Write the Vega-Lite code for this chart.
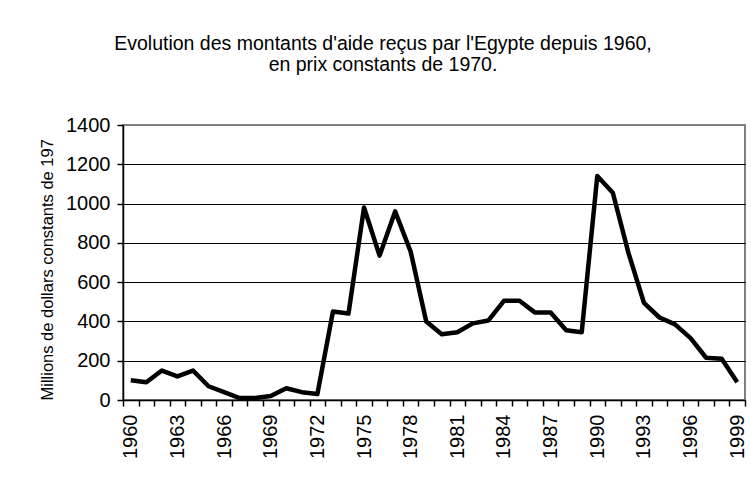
{
  "$schema": "https://vega.github.io/schema/vega-lite/v6.json",
  "autosize": {"type": "none"},
  "width": 622,
  "height": 275,
  "padding": {"left": 123, "top": 125, "right": 6, "bottom": 86},
  "background": "white",
  "title": {
    "text": ["Evolution des montants d'aide reçus par l'Egypte depuis 1960,", "en prix constants de 1970."],
    "font": "Liberation Sans",
    "fontSize": 19.5,
    "fontWeight": "normal",
    "color": "black",
    "anchor": "middle",
    "frame": "group",
    "dx": -51,
    "offset": 40,
    "lineHeight": 21
  },
  "config": {
    "font": "Liberation Sans",
    "view": {"stroke": "#808080", "strokeWidth": 2},
    "axis": {
      "labelFont": "Liberation Sans",
      "labelColor": "black",
      "labelFontSize": 20,
      "titleFont": "Liberation Sans",
      "titleColor": "black",
      "titleFontWeight": "normal",
      "domainColor": "black",
      "domainWidth": 1.5,
      "tickColor": "black",
      "tickWidth": 1.5,
      "tickSize": 6
    }
  },
  "data": {
    "values": [
      {"year": 1960, "aide": 100}, {"year": 1961, "aide": 90}, {"year": 1962, "aide": 150},
      {"year": 1963, "aide": 120}, {"year": 1964, "aide": 150}, {"year": 1965, "aide": 70},
      {"year": 1966, "aide": 40}, {"year": 1967, "aide": 10}, {"year": 1968, "aide": 10},
      {"year": 1969, "aide": 20}, {"year": 1970, "aide": 60}, {"year": 1971, "aide": 40},
      {"year": 1972, "aide": 30}, {"year": 1973, "aide": 450}, {"year": 1974, "aide": 440},
      {"year": 1975, "aide": 980}, {"year": 1976, "aide": 735}, {"year": 1977, "aide": 960},
      {"year": 1978, "aide": 755}, {"year": 1979, "aide": 400}, {"year": 1980, "aide": 335},
      {"year": 1981, "aide": 345}, {"year": 1982, "aide": 390}, {"year": 1983, "aide": 405},
      {"year": 1984, "aide": 505}, {"year": 1985, "aide": 505}, {"year": 1986, "aide": 445},
      {"year": 1987, "aide": 445}, {"year": 1988, "aide": 355}, {"year": 1989, "aide": 345},
      {"year": 1990, "aide": 1140}, {"year": 1991, "aide": 1055}, {"year": 1992, "aide": 750},
      {"year": 1993, "aide": 495}, {"year": 1994, "aide": 420}, {"year": 1995, "aide": 385},
      {"year": 1996, "aide": 315}, {"year": 1997, "aide": 215}, {"year": 1998, "aide": 210},
      {"year": 1999, "aide": 90}
    ]
  },
  "mark": {"type": "line", "color": "black", "strokeWidth": 4.5, "strokeJoin": "round"},
  "encoding": {
    "x": {
      "field": "year",
      "type": "ordinal",
      "scale": {"type": "band", "paddingInner": 0, "paddingOuter": 0},
      "axis": {
        "title": null,
        "labelAngle": -90,
        "labelAlign": "right",
        "labelBaseline": "middle",
        "labelPadding": 8,
        "tickBand": "extent",
        "labelExpr": "(datum.value - 1960) % 3 === 0 ? datum.label : ''",
        "labelOverlap": false,
        "grid": false
      }
    },
    "y": {
      "field": "aide",
      "type": "quantitative",
      "scale": {"domain": [0, 1400]},
      "axis": {
        "values": [0, 200, 400, 600, 800, 1000, 1200, 1400],
        "format": "d",
        "title": "Millions de dollars constants de 197",
        "titleFontSize": 16.5,
        "titleAnchor": "start",
        "titlePadding": 10,
        "titleLimit": 400,
        "labelPadding": 7,
        "grid": true,
        "gridColor": {"condition": {"test": "datum.value === 1400", "value": "#808080"}, "value": "black"},
        "gridWidth": 1.2
      }
    }
  }
}
